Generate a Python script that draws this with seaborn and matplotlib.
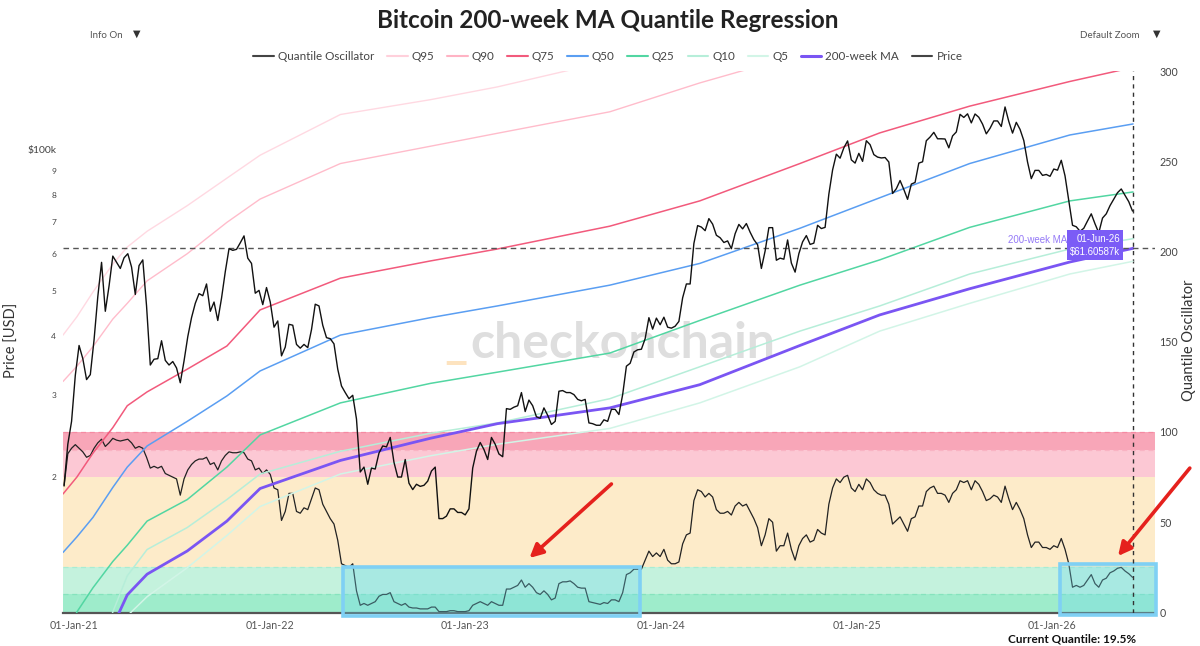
import numpy as np
import pandas as pd
import matplotlib
matplotlib.use("Agg")
import matplotlib.pyplot as plt
import matplotlib.dates as mdates
from matplotlib.lines import Line2D
from matplotlib.patches import Rectangle
from matplotlib.ticker import NullLocator, FixedLocator, FixedFormatter
import seaborn as sns

sns.set_style("white")
plt.rcParams['font.family'] = ['Lato', 'DejaVu Sans']

# ---------------- DATA ----------------
# weekly BTC price ($k), Sundays from 2020-12-13 to 2026-05-31
price_2020 = [19.2, 23.5, 26.3]
price_2021 = [33.0, 38.2, 35.8, 32.3, 33.1,
              39.3, 48.6, 57.5, 45.2,
              51.2, 59.3, 57.5, 55.8,
              58.8, 60.0, 56.2, 49.1,
              56.6, 58.2, 46.4, 34.7, 35.7,
              35.8, 39.1, 35.5, 34.7,
              35.3, 34.2, 31.8, 35.4,
              39.9, 43.8, 47.0, 49.3, 48.8,
              51.7, 45.2, 47.3, 43.2,
              48.2, 54.9, 61.5, 61.0, 61.3,
              63.3, 65.5, 58.7, 57.2,
              49.4, 50.1, 46.7, 50.8]
price_2022 = [47.3, 41.8, 43.1, 36.3, 37.9,
              42.4, 42.2, 38.4, 37.7,
              38.4, 37.8, 41.3, 46.8,
              46.4, 42.2, 39.7, 39.5,
              38.5, 34.0, 31.3, 30.3, 29.4,
              29.9, 26.6, 20.5, 21.0,
              19.3, 20.9, 20.8, 22.5, 23.3,
              23.2, 24.3, 21.5, 20.0,
              20.0, 21.8, 19.4, 18.8,
              19.3, 19.1, 19.2, 19.6, 20.6,
              21.0, 16.3, 16.3, 16.5,
              17.1, 17.1, 16.8, 16.8]
price_2023 = [16.6, 17.1, 20.9, 22.7, 23.7,
              22.9, 21.8, 24.3, 23.5,
              22.4, 22.1, 28.0, 27.9,
              28.2, 28.4, 30.3, 27.6, 29.2,
              28.4, 26.9, 26.7, 28.1,
              27.1, 25.9, 26.3, 30.5,
              30.6, 30.3, 30.3, 30.0, 29.3,
              29.1, 29.3, 26.1, 26.0,
              25.8, 25.8, 26.5, 26.3,
              27.9, 27.9, 27.2, 30.0, 34.5,
              35.0, 37.0, 37.4, 37.5,
              39.5, 43.8, 41.4, 43.7, 42.3]
price_2024 = [43.9, 41.8, 41.6, 42.0,
              43.0, 48.3, 51.7, 51.7,
              63.1, 68.9, 68.4, 67.2, 71.3,
              69.4, 65.7, 64.9, 63.4,
              63.9, 61.5, 66.2, 69.3,
              67.8, 69.6, 66.7, 64.3, 62.7,
              55.8, 60.8, 68.2, 68.2,
              58.1, 58.7, 58.4, 64.2,
              57.3, 54.8, 60.0, 63.6, 65.6,
              62.8, 63.2, 69.0, 67.9,
              68.3, 80.4, 90.6, 97.9,
              96.0, 101.0, 104.5, 95.2, 93.7]
price_2025 = [98.3, 94.5, 104.6, 102.6,
              97.7, 96.5, 96.1, 96.3,
              94.2, 80.7, 82.6, 86.0, 82.3,
              78.4, 84.5, 85.2, 93.7,
              94.3, 104.6, 106.5, 109.0,
              105.6, 105.6, 105.5, 101.0, 107.1,
              109.2, 119.1, 117.3, 119.4,
              114.2, 119.3, 117.4, 113.5, 108.2,
              111.2, 115.3, 115.3, 112.2,
              123.5, 115.0, 108.6, 114.5,
              110.6, 104.7, 94.2, 86.8, 90.4,
              90.4, 88.2, 88.6, 87.8]
price_2026 = [91.0, 90.5, 95.0, 88.0,
              78.0, 69.0, 68.5, 67.0,
              68.0, 70.5, 73.0, 69.5, 66.5,
              71.5, 73.0, 76.0, 78.5,
              81.0, 82.5, 80.0, 77.5, 74.0]

# weekly quantile oscillator (same dates)
osc_2020 = [70, 88, 91]
osc_2021 = [93, 91, 89, 86, 87,
            91, 94, 96, 92,
            94, 96.5, 95.5, 95,
            95.5, 96, 94, 91,
            92, 91, 86, 80, 81,
            80, 81, 77, 76,
            75, 74, 65, 74,
            79, 82, 84, 85, 85,
            86, 82, 83, 79,
            84, 87, 89, 88.5, 88.5,
            89, 88.5, 85, 84,
            79, 80, 77, 79]
osc_2022 = [76.5, 69, 68, 51, 56,
            66, 66, 56, 55,
            58, 57, 63, 69,
            68, 60, 56, 52,
            49, 40, 27, 26, 25,
            27, 12, 4, 5,
            4, 5, 6, 9, 10,
            10, 11, 6, 5,
            4, 5, 3, 2.5,
            2.5, 2, 2, 2, 3,
            3, 0.5, 0.5, 0.5,
            1, 1, 0.5, 0.5]
osc_2023 = [0.5, 1, 4, 5, 6,
            5, 4, 6, 5,
            4, 4, 13, 13,
            14, 15, 18, 14, 16,
            14, 11, 10, 12,
            10, 7, 8, 16,
            17, 17, 17.5, 16, 14,
            13.5, 13.5, 6, 5.5,
            5, 4.5, 5.5, 5,
            7, 7, 6, 11, 21,
            22, 24, 24, 24,
            29, 34, 31, 33, 31]
osc_2024 = [35, 29, 27, 27,
            28, 38, 43, 44,
            62, 68, 67, 64, 66,
            64, 57, 55, 55,
            56, 54, 59, 61,
            59, 60, 56, 52, 47,
            37, 43, 52, 50,
            34, 37, 37, 44,
            35, 29, 37, 41, 43,
            39, 40, 46, 44,
            43, 60, 69, 74,
            72, 75, 76, 69, 67]
osc_2025 = [71, 68, 74, 72,
            68, 66, 65, 65,
            60, 49, 51, 53, 49,
            45, 52, 53, 59,
            59, 67, 69, 70,
            66, 66, 65, 61, 66,
            68, 73, 72, 73,
            68, 73, 71, 67, 62,
            63, 65, 64, 61,
            70, 63, 57, 61,
            57, 52, 43, 36, 39,
            39, 36, 36, 35]
osc_2026 = [37, 36, 41, 35,
            27, 14, 15, 14,
            15, 18, 21, 16, 14,
            18, 19, 22, 23,
            24.5, 25, 23, 21.5, 19.5]

# quantile regression lines and 200-week MA ($k)
q_dates = ["2020-12-11", "2021-01-06", "2021-02-05", "2021-03-14", "2021-04-10",
           "2021-05-17", "2021-07-31", "2021-10-13", "2021-12-14", "2022-05-13",
           "2022-10-28", "2023-03-02", "2023-09-28", "2024-03-14", "2024-09-17",
           "2025-02-13", "2025-07-31", "2026-02-03", "2026-06-01"]
q95 = [40.2, 44, 49.7, 57, 62, 67, 76, 87, 97.4, 119, 128, 136.3, 155, 175, 195, 210, 225, 240, 248]
q90 = [32, 34.5, 38, 43.5, 47, 52.5, 60, 70, 78.5, 93.5, 101.8, 108.5, 120.6, 139, 160, 175, 190, 205, 212]
q75 = [18.4, 20, 22.5, 25.5, 28.4, 30.4, 34, 38.1, 45.5, 53.2, 57.9, 61.4, 68.7, 77.8, 93.5, 108.7, 124, 140, 150]
q50 = [13.8, 14.9, 16.4, 19.0, 21, 23.3, 26.3, 29.8, 33.7, 40.2, 43.8, 46.4, 51.4, 57.2, 68, 79, 93.5, 107.6, 113.6]
q25 = [8.5, 10.3, 11.6, 13.2, 14.3, 16.1, 17.9, 21, 24.6, 28.8, 31.7, 33.5, 36.8, 43.2, 51.4, 58.2, 68.3, 77.8, 81.3]
q10 = [4, 5.5, 7, 10.3, 12.3, 14, 15.6, 17.9, 20.3, 22.7, 24.8, 26.1, 29.4, 34.4, 41, 46.4, 54.3, 61.4, 64.6]
ma200 = [3.5, 4.5, 6, 9.6, 11.2, 12.4, 13.9, 16.1, 18.9, 21.7, 24.2, 26.0, 28.1, 31.5, 38.2, 44.4, 50.5, 57.6, 61.60587]
q5 = [3, 4, 5, 7.5, 10.1, 11.1, 12.8, 15, 17.3, 20.3, 22.2, 23.5, 25.4, 28.8, 34.4, 41, 47, 54.3, 57.8]

band_edges = [0, 10, 25, 75, 90, 100]
band_colors = ["#9eeccb", "#c4f2dd", "#fdebc9", "#fcc8d4", "#f8a6b8"]

current_quantile = 19.5
ma_label_date = "2026-06-01"
ma_label_value = 61.60587

# ---------------- BUILD ----------------
price_k = price_2020 + price_2021 + price_2022 + price_2023 + price_2024 + price_2025 + price_2026
osc = osc_2020 + osc_2021 + osc_2022 + osc_2023 + osc_2024 + osc_2025 + osc_2026
wdates = pd.date_range("2020-12-13", periods=len(price_k), freq="7D")
weekly = pd.DataFrame({"date": wdates, "price": np.array(price_k) * 1000, "osc": osc})
qd = pd.to_datetime(q_dates)
qdf = pd.DataFrame({"date": qd, "Q95": np.array(q95) * 1000, "Q90": np.array(q90) * 1000,
                    "Q75": np.array(q75) * 1000, "Q50": np.array(q50) * 1000,
                    "Q25": np.array(q25) * 1000, "Q10": np.array(q10) * 1000,
                    "MA": np.array(ma200) * 1000, "Q5": np.array(q5) * 1000})

W, H = 1200, 646
fig = plt.figure(figsize=(W / 100, H / 100), dpi=100)
L, R, B, T = 63, 1155, 612.5, 71
ax = fig.add_axes([L / W, 1 - B / H, (R - L) / W, (B - T) / H])
ax2 = ax.twinx()

# oscillator axis (right side)
ax.set_ylim(0, 300)
ax.yaxis.tick_right()
xmin, xmax = pd.Timestamp("2020-12-11"), pd.Timestamp("2026-07-12")
ax.set_xlim(xmin, xmax)

for i in range(len(band_colors)):
    ax.axhspan(band_edges[i], band_edges[i + 1], color=band_colors[i], lw=0, zorder=0)
for yv, c in [(100, "#f58aa2"), (90, "#f9b3c3"), (25, "#a9ecd2"), (10, "#86e3bd")]:
    ax.axhline(yv, color=c, lw=0.9, ls=(0, (4, 3)), zorder=0.5)

sns.lineplot(data=weekly, x="date", y="osc", ax=ax, color="#222222", linewidth=0.9, zorder=3)

# rectangles of emphasis
for x0, x1, y0, y1 in [("2022-05-18", "2023-11-24", -2.2, 25.3),
                       ("2026-01-16", "2026-07-13", -1.5, 26.8)]:
    d0, d1 = mdates.date2num(pd.Timestamp(x0)), mdates.date2num(pd.Timestamp(x1))
    ax.add_patch(Rectangle((d0, y0), d1 - d0, y1 - y0, facecolor="#6fd9ee", alpha=0.32,
                           edgecolor="none", zorder=4, clip_on=False))
    ax.add_patch(Rectangle((d0, y0), d1 - d0, y1 - y0, facecolor="none",
                           edgecolor="#7fd0f4", lw=2.6, zorder=5, clip_on=False))

# price axis (left, log)
ax2.set_yscale("log")
ax2.set_ylim(10270, 147400)
ax2.yaxis.tick_left()
ax2.patch.set_visible(False)

qstyle = [("Q95", "#ffd9e2", 1.0), ("Q90", "#ffbccb", 1.0), ("Q75", "#f25a7c", 1.1),
          ("Q50", "#5a9ef2", 1.1), ("Q25", "#52d6a2", 1.1), ("Q10", "#b6eed9", 1.1),
          ("Q5", "#d2f5e7", 1.1), ("MA", "#7a55f3", 2.0)]
for col, c, lw in qstyle:
    sns.lineplot(data=qdf, x="date", y=col, ax=ax2, color=c, linewidth=lw, zorder=2)

sns.lineplot(data=weekly, x="date", y="price", ax=ax2, color="#111111", linewidth=1.0, zorder=3)

vdate = pd.Timestamp(ma_label_date)
ax2.axhline(ma_label_value * 1000, color="#555555", lw=1.0, ls=(0, (4, 3)), zorder=2.5)
ax.axvline(vdate, color="#333333", lw=1.0, ls=(0, (3, 3)), zorder=6)

ax2.annotate(f"{pd.Timestamp(ma_label_date):%d-%b-%y}\n${ma_label_value:.5f}k",
             xy=(vdate, ma_label_value * 1000), xytext=(-13, 3), textcoords="offset pixels",
             ha="right", va="center", color="white", fontsize=6.9, linespacing=1.45,
             family=["Liberation Sans", "DejaVu Sans"],
             bbox=dict(boxstyle="square,pad=0.35", fc="#7b5cf6", ec="none"), zorder=7)
ax2.annotate("200-week MA", xy=(vdate, ma_label_value * 1000), xytext=(-66, 8),
             textcoords="offset pixels", ha="right", va="center", color="#9479f7",
             fontsize=7, family=["Liberation Sans", "DejaVu Sans"], zorder=7)

# red arrows
for (tx, ty), (hx, hy) in [(("2023-10-01", 71.2), ("2023-05-01", 30.2)),
                           (("2026-09-15", 80.0), ("2026-05-04", 31.3))]:
    ax.annotate("", xy=(pd.Timestamp(hx), hy), xytext=(pd.Timestamp(tx), ty),
                arrowprops=dict(arrowstyle="-|>", color="#e5211d", lw=2.6, mutation_scale=20,
                                shrinkA=0, shrinkB=0),
                annotation_clip=False, zorder=8)

# axes styling
for a in (ax, ax2):
    for s in ["top", "left", "right"]:
        a.spines[s].set_visible(False)
    a.set_xlabel("")
    a.set_ylabel("")
ax2.spines["bottom"].set_visible(False)
ax.spines["bottom"].set_color("#555555")
ax.spines["bottom"].set_linewidth(1.6)

years = [pd.Timestamp(f"{y}-01-01") for y in range(2021, 2027)]
ax.set_xticks(years)
ax.set_xticklabels([f"{d:%d-%b-%y}" for d in years])
ax.tick_params(axis="x", length=0, pad=5.5, labelsize=7.7, labelcolor="#555555")
ax.set_yticks(range(0, 301, 50))
ax.tick_params(axis="y", length=0, pad=3, labelsize=7.7, labelcolor="#444444")

pticks = [20000, 30000, 40000, 50000, 60000, 70000, 80000, 90000, 100000]
plabels = ["2", "3", "4", "5", "6", "7", "8", "9", "$100k"]
ax2.yaxis.set_major_locator(FixedLocator(pticks))
ax2.yaxis.set_major_formatter(FixedFormatter(plabels))
ax2.yaxis.set_minor_locator(NullLocator())
ax2.tick_params(axis="y", length=0, pad=5, labelsize=6, labelcolor="#444444")
for lab in ax2.get_yticklabels():
    if lab.get_text().startswith("$"):
        lab.set_fontsize(7.5)

# watermark
ax2.text(470 / W, 1 - 358 / H, "checkonchain", transform=fig.transFigure, fontsize=36,
         weight="bold", color="#dedede", ha="left", va="baseline", zorder=1)
ax2.text(444 / W, 1 - 358 / H, "_", transform=fig.transFigure, fontsize=36,
         weight="bold", color="#fde3bf", ha="left", va="baseline", zorder=1)

# texts
fig.text(608 / W, 1 - 20 / H, "Bitcoin 200-week MA Quantile Regression", ha="center", va="center",
         fontsize=17.5, weight="bold", color="#222222")
fig.text(90 / W, 1 - 35 / H, "Info On", ha="left", va="center", fontsize=7, color="#555555")
fig.text(137 / W, 1 - 34 / H, "▼", ha="center", va="center", fontsize=7, color="#333333")
fig.text(1080 / W, 1 - 35 / H, "Default Zoom", ha="left", va="center", fontsize=7, color="#555555")
fig.text(1157 / W, 1 - 34 / H, "▼", ha="center", va="center", fontsize=7, color="#333333")
fig.text(12 / W, 1 - 340 / H, "Price [USD]", rotation=90, ha="center", va="center",
         fontsize=10.5, color="#333333")
fig.text(1189 / W, 1 - 340 / H, "Quantile Oscillator", rotation=90, ha="center", va="center",
         fontsize=10.5, color="#333333")
fig.text(1072 / W, 1 - 639 / H, f"Current Quantile: {current_quantile}%", ha="center", va="center",
         fontsize=8.5, weight="bold", color="#111111")

# legend
handles = [Line2D([], [], color="#444444", lw=1.5),
           Line2D([], [], color="#ffd0db", lw=1.5),
           Line2D([], [], color="#ffb3c4", lw=1.5),
           Line2D([], [], color="#f25a7c", lw=1.5),
           Line2D([], [], color="#5a9ef2", lw=1.5),
           Line2D([], [], color="#52d6a2", lw=1.5),
           Line2D([], [], color="#b6eed9", lw=1.5),
           Line2D([], [], color="#d2f5e7", lw=1.5),
           Line2D([], [], color="#7a55f3", lw=2.2),
           Line2D([], [], color="#444444", lw=1.5)]
labels = ["Quantile Oscillator", "Q95", "Q90", "Q75", "Q50", "Q25", "Q10", "Q5", "200-week MA", "Price"]
leg = fig.legend(handles, labels, loc="center", bbox_to_anchor=(608 / W, 1 - 57 / H), ncol=10,
                 frameon=False, fontsize=8.4, handlelength=1.75, columnspacing=1.1, handletextpad=0.35)
for t in leg.get_texts():
    t.set_color("#444444")

fig.savefig("out.png", dpi=100)
